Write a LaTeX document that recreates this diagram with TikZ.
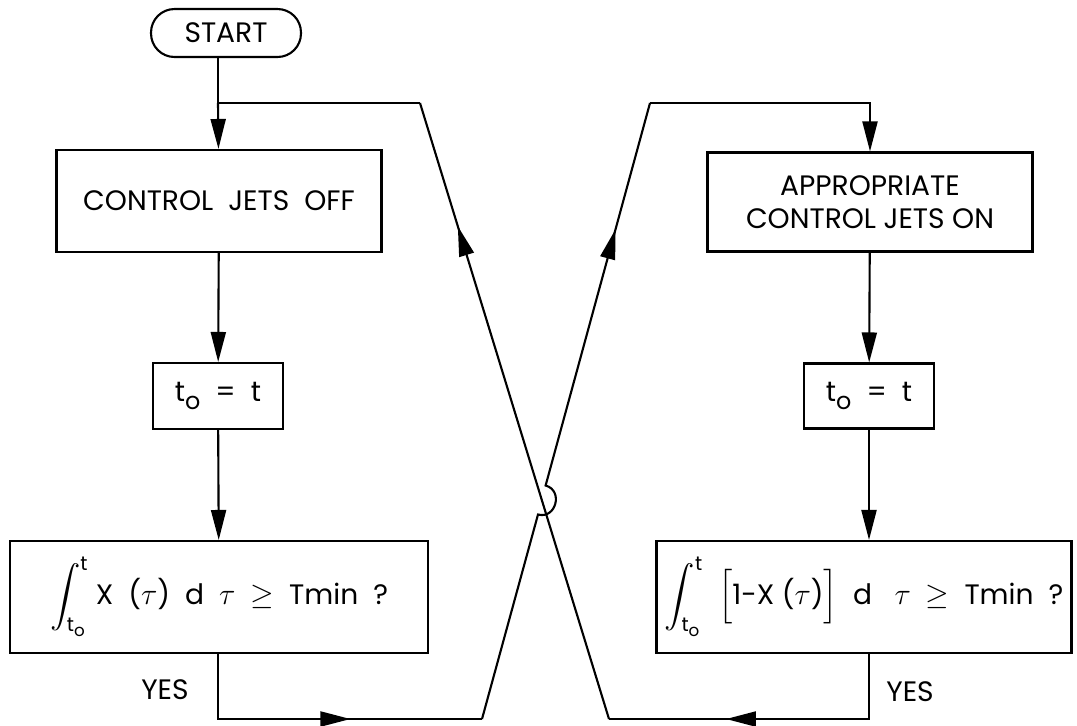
\documentclass[tikz,border=0pt]{standalone}
\usepackage{fontspec}
\setmainfont{Poppins}
\usepackage{amsmath}
\usetikzlibrary{positioning,arrows.meta,decorations.markings,calc}
\newcommand{\tnot}{t\raisebox{-0.5ex}{\scalebox{0.85}{o}}}

\begin{document}
\begin{tikzpicture}[x=0.02cm,y=-0.02cm,line width=1.2pt,
  font=\fontsize{16}{19}\selectfont,
  box/.style={draw,rectangle,align=center,inner sep=0pt},
  tip/.style={-{Triangle[length=0.6cm,width=0.3cm]}},
  midtip/.style={postaction={decorate,decoration={markings,
    mark=at position #1 with {\arrow{Triangle[length=0.6cm,width=0.3cm]}}}}}]
  \useasboundingbox (0,0) rectangle (1077,725);
  % left column
  \node[box,rounded corners=0.47cm,minimum width=3cm,minimum height=0.96cm] (start) at (226,33) {START};
  \node[box,minimum width=6.5cm,minimum height=2.04cm] (off) at (219,201) {CONTROL\ \ JETS\ \ OFF};
  \node[box,minimum width=2.6cm,minimum height=1.32cm] (tl) at (218,396) {\tnot\ \ =\ \ t};
  \node[box,minimum width=8.36cm,minimum height=2.24cm] (il) at (219,597)
    {$\displaystyle\int_{\text{\tnot}}^{\text{t}}$\ X\ \ ($\tau$)\ \ d\ \ $\tau$\ \ $\geq$\ \ Tmin\ \ ?};
  % right column
  \node[box,minimum width=6.5cm,minimum height=1.98cm] (on) at (870,202) {APPROPRIATE\\CONTROL\ JETS\ ON};
  \node[box,minimum width=2.6cm,minimum height=1.3cm] (tr) at (869,396) {\tnot\ \ =\ \ t};
  \node[box,minimum width=8.3cm,minimum height=2.24cm] (ir) at (864,597)
    {$\displaystyle\int_{\text{\tnot}}^{\text{t}}$\ \ $\Bigl[$1-X\ ($\tau$)$\Bigr]$\ \ d\ \ \ $\tau$\ \ $\geq$\ \ Tmin\ \ ?};
  \node (yl) at (165,690) {YES};
  \node (yr) at (910,692) {YES};
  % corners of the loops
  \coordinate (jl) at (218,103);
  \coordinate (la) at (482,719);
  \coordinate (ta) at (650,103);
  \coordinate (lb) at (609,719);
  \coordinate (tb) at (420,103);
  \coordinate (h1) at (538.0,514.5);
  \coordinate (h2) at (545.6,485.5);
  % straight runs
  \draw[tip] (jl -| tl.north) -- (off);
  \draw (start.south -| tl.north) -- (jl -| tl.north);
  \draw[tip] (off) -- (tl);
  \draw[tip] (tl) -- (il);
  \draw[tip] (on) -- (tr);
  \draw[tip] (tr.south) -- (tr.south |- ir.north);
  % YES from the left
  \draw[midtip=0.6] (il.south -| tl.south) |- (la);
  \draw[midtip=0.8] (la) -- (h1) .. controls (556.0,519.4) and (563.6,490.4) .. (h2) -- (ta);
  \draw[tip] (ta) -| (on.north);
  % YES from the right
  \draw[midtip=0.64] (tr.south |- ir.south) |- (lb);
  \draw[midtip=0.8] (lb) -- (tb);
  \draw (tb) -- (jl -| tl.north);
\end{tikzpicture}
\end{document}
